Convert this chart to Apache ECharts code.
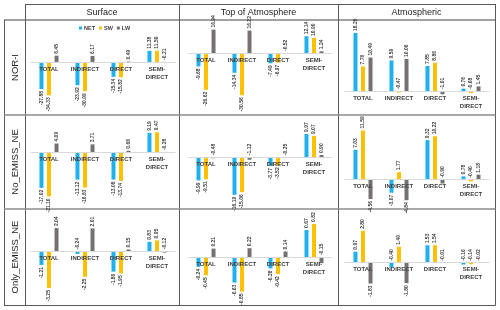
<!DOCTYPE html>
<html>
<head>
<meta charset="utf-8">
<script src="https://cdn.jsdelivr.net/npm/echarts@6/dist/echarts.min.js"></script>
<style>
html,body{margin:0;padding:0;background:#fff;}
#chart{width:500px;height:310px;}
</style>
</head>
<body>
<div id="chart"></div>
<script>
const categories = ['TOTAL', 'INDIRECT', 'DIRECT', 'SEMI-\nDIRECT'];
const seriesNames = ['NET', 'SW', 'LW'];
const columnTitles = ['Surface', 'Top of Atmosphere', 'Atmospheric'];
const rowTitles = ['NOR-I', 'No_EMISS_NE', 'Only_EMISS_NE'];

// NOR-I
const norSurfaceNET = [-27.88, -23.92, -15.34, 11.38];
const norSurfaceSW  = [-34.33, -30.09, -15.82, 11.59];
const norSurfaceLW  = [6.45, 6.17, 0.49, -0.21];
const norToaNET = [-9.68, -14.34, -7.49, 12.14];
const norToaSW  = [-26.62, -30.56, -6.97, 10.90];
const norToaLW  = [16.94, 16.22, -0.52, 1.24];
const norAtmNET = [18.20, 9.59, 7.85, 0.76];
const norAtmSW  = [7.70, -0.47, 8.86, -0.68];
const norAtmLW  = [10.49, 10.06, -1.01, 1.45];
// No_EMISS_NE
const noSurfaceNET = [-17.02, -13.12, -13.08, 9.19];
const noSurfaceSW  = [-21.10, -16.83, -13.74, 9.47];
const noSurfaceLW  = [4.09, 3.71, 0.66, -0.28];
const noToaNET = [-9.99, -16.19, -3.77, 9.97];
const noToaSW  = [-9.51, -15.06, -3.52, 9.07];
const noToaLW  = [-0.48, -1.12, -0.25, 0.90];
const noAtmNET = [7.03, -3.07, 9.32, 0.78];
const noAtmSW  = [11.59, 1.77, 10.22, -0.40];
const noAtmLW  = [-4.56, -4.84, -0.90, 1.18];
// Only_EMISS_NE
const onlySurfaceNET = [-1.21, -0.24, -1.80, 0.83];
const onlySurfaceSW  = [-3.25, -2.25, -1.95, 0.95];
const onlySurfaceLW  = [2.04, 2.01, 0.15, -0.12];
const onlyToaNET = [-0.24, -0.63, -0.28, 0.67];
const onlyToaSW  = [-0.45, -0.85, -0.42, 0.82];
const onlyToaLW  = [0.21, 0.22, 0.14, -0.15];
const onlyAtmNET = [0.97, -0.40, 1.53, -0.16];
const onlyAtmSW  = [2.80, 1.40, 1.54, -0.14];
const onlyAtmLW  = [-1.83, -1.80, -0.01, -0.02];

const panels = [
  [[norSurfaceNET, norSurfaceSW, norSurfaceLW], [norToaNET, norToaSW, norToaLW], [norAtmNET, norAtmSW, norAtmLW]],
  [[noSurfaceNET, noSurfaceSW, noSurfaceLW], [noToaNET, noToaSW, noToaLW], [noAtmNET, noAtmSW, noAtmLW]],
  [[onlySurfaceNET, onlySurfaceSW, onlySurfaceLW], [onlyToaNET, onlyToaSW, onlyToaLW], [onlyAtmNET, onlyAtmSW, onlyAtmLW]]
];

// layout
const colors = ['#1EB1EC', '#FFC000', '#767171'];
const colLeft = [31, 188, 345];
const gridW = 144;
const rowTop = [24, 119, 213];
const gridH = 87;
const yRanges = [
  [[-50.5, 39], [-42, 21], [-6.25, 21]],
  [[-25.7, 15.8], [-21, 16.4], [-6.2, 14.3]],
  [[-4.3, 3.37], [-1.06, 1.09], [-3.28, 4.37]]
];

const grid = [], xAxis = [], yAxis = [], series = [];
let gi = 0;
for (let r = 0; r < 3; r++) {
  for (let c = 0; c < 3; c++) {
    const [ymin, ymax] = yRanges[r][c];
    // distance of the zero line above the bottom of the plot area
    const zeroOffset = (0 - ymin) / (ymax - ymin) * gridH;
    grid.push({left: colLeft[c], top: rowTop[r], width: gridW, height: gridH});
    xAxis.push({
      type: 'category', gridIndex: gi, data: categories, position: 'bottom',
      offset: -zeroOffset, z: 10,
      axisLine: {show: true, onZero: false, lineStyle: {color: '#d9d9d9', width: 1}},
      axisTick: {show: false},
      axisLabel: {interval: 0, fontSize: 6, fontWeight: 'bold', color: '#404040',
        fontFamily: 'Liberation Sans', margin: 3, lineHeight: 8, verticalAlign: 'top'}
    });
    yAxis.push({type: 'value', gridIndex: gi, min: ymin, max: ymax, show: false,
      splitLine: {show: false}});
    for (let s = 0; s < 3; s++) {
      const vals = panels[r][c][s];
      series.push({
        type: 'bar', name: seriesNames[s], xAxisIndex: gi, yAxisIndex: gi,
        barWidth: 4, barGap: '88%', clip: false, z: 2,
        itemStyle: {color: colors[s]},
        data: vals.map(v => {
          const px = Math.abs(v) / (ymax - ymin) * gridH;
          const up = v >= 0 || px < 7;
          return {
            value: v,
            label: {position: up ? 'top' : 'bottom', align: up ? 'left' : 'right'}
          };
        }),
        label: {show: true, rotate: 90, distance: 2, verticalAlign: 'middle',
          fontSize: 5, fontWeight: 'bold', color: '#404040', fontFamily: 'Liberation Sans',
          formatter: p => p.value.toFixed(2)}
      });
    }
    gi++;
  }
}

const lineStyleV = {stroke: '#595959', lineWidth: 1};
const lineStyleH = {stroke: '#8c8c8c', lineWidth: 1.5};
const graphic = [
  {type: 'line', shape: {x1: 25, y1: 4.5, x2: 495.5, y2: 4.5}, style: lineStyleV, silent: true},
  {type: 'line', shape: {x1: 4, y1: 20, x2: 495.5, y2: 20}, style: {stroke: '#a0a0a0', lineWidth: 2}, silent: true},
  {type: 'line', shape: {x1: 4.5, y1: 20, x2: 4.5, y2: 305.5}, style: lineStyleV, silent: true},
  {type: 'line', shape: {x1: 25.5, y1: 4, x2: 25.5, y2: 305.5}, style: lineStyleV, silent: true},
  {type: 'line', shape: {x1: 179.5, y1: 4, x2: 179.5, y2: 305.5}, style: lineStyleV, silent: true},
  {type: 'line', shape: {x1: 338.5, y1: 4, x2: 338.5, y2: 305.5}, style: lineStyleV, silent: true},
  {type: 'line', shape: {x1: 495.5, y1: 4, x2: 495.5, y2: 305.5}, style: lineStyleV, silent: true},
  {type: 'line', shape: {x1: 4, y1: 115, x2: 495.5, y2: 115}, style: lineStyleH, silent: true},
  {type: 'line', shape: {x1: 4, y1: 209, x2: 495.5, y2: 209}, style: lineStyleH, silent: true},
  {type: 'line', shape: {x1: 4, y1: 305.5, x2: 495.5, y2: 305.5}, style: lineStyleV, silent: true}
];
const colCenters = [102, 258.5, 416.5];
columnTitles.forEach((t, i) => graphic.push({
  type: 'text', x: colCenters[i], y: 12.5, silent: true,
  style: {text: t, align: 'center', verticalAlign: 'middle', fill: '#262626',
    font: '9px "Liberation Sans"'}
}));
const rowCenters = [67.5, 162, 257];
rowTitles.forEach((t, i) => graphic.push({
  type: 'text', x: 15, y: rowCenters[i], rotation: Math.PI / 2, silent: true,
  style: {text: t, align: 'center', verticalAlign: 'middle', fill: '#262626',
    font: '9.5px "Liberation Sans"'}
}));

const chart = echarts.init(document.getElementById('chart'), null, {renderer: 'canvas'});
chart.setOption({
  animation: false,
  backgroundColor: '#fff',
  legend: {
    data: seriesNames, left: 79, top: 25, itemWidth: 3, itemHeight: 3, itemGap: 4, padding: 0,
    icon: 'rect',
    textStyle: {fontSize: 5.5, fontWeight: 'bold', color: '#404040', fontFamily: 'Liberation Sans', padding: [0, 0, 0, -3]}
  },
  grid, xAxis, yAxis, series, graphic
});
</script>
</body>
</html>
